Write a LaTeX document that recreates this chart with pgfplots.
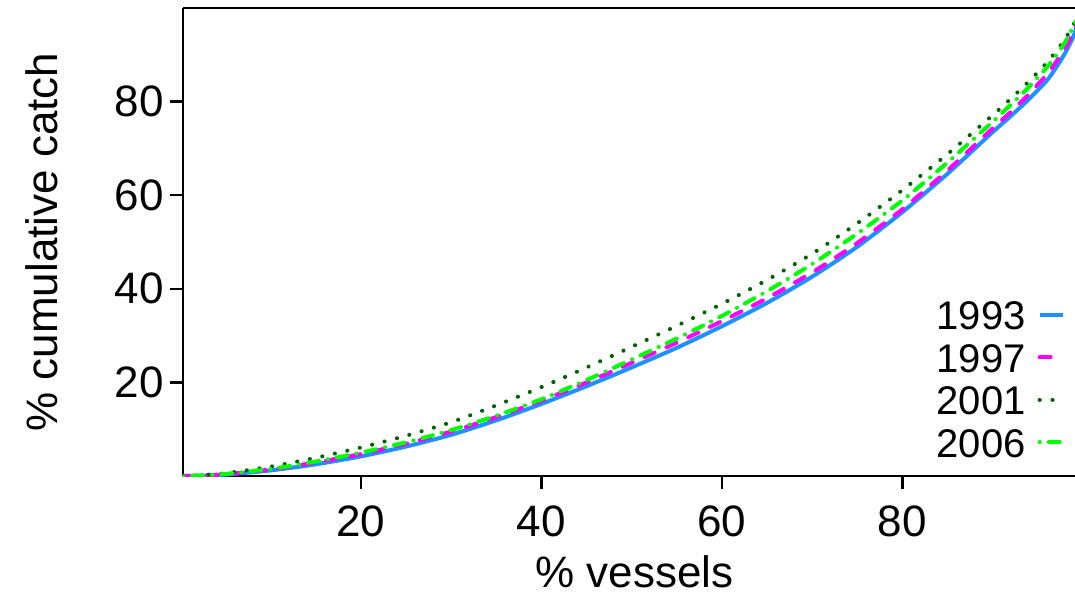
\documentclass[border=0pt]{standalone}
\usepackage{fontspec}
\setmainfont{Liberation Sans}
\usepackage{pgfplots}
\pgfplotsset{compat=1.18}

\definecolor{c93}{HTML}{1E90FF}
\definecolor{c97}{HTML}{FF00FF}
\definecolor{c01}{HTML}{006400}
\definecolor{c06}{HTML}{00FF00}

\pgfplotstableread{
x y
0.28 0
2 0.05
5 0.3
10 1.2
15 2.5
20 4.2
25 6.3
30 8.8
35 11.9
40 15.4
45 19.2
50 23.2
55 27.4
60 32.0
65 37.0
70 42.6
75 49.0
80 56.4
85 64.6
90 73.5
92 76.9
94 80.5
96 84.5
97 87.2
98 90.3
99 94.2
100 100
}\yrA

\pgfplotstableread{
x y
0.28 0
2 0.08
5 0.4
10 1.4
15 2.9
20 4.7
25 6.9
30 9.5
35 12.6
40 16.1
45 20.0
50 24.2
55 28.5
60 33.1
65 38.0
70 43.5
75 49.8
80 57.0
85 65.3
90 74.3
92 77.8
94 81.6
96 85.8
97 88.4
98 91.4
99 95.0
100 100
}\yrB

\pgfplotstableread{
x y
0.28 0
2 0.15
5 0.6
10 2.0
15 3.9
20 6.1
25 8.6
30 11.5
35 15.1
40 19.0
45 23.2
50 27.6
55 32.1
60 36.8
65 41.9
70 47.5
75 54.0
80 61.1
85 68.8
90 77.1
92 80.6
94 84.3
96 88.3
97 90.7
98 93.3
99 96.6
100 100
}\yrC

\pgfplotstableread{
x y
0.28 0
2 0.1
5 0.45
10 1.5
15 3.1
20 5.0
25 7.2
30 9.8
35 12.9
40 16.4
45 20.5
50 24.9
55 29.4
60 34.2
65 39.5
70 45.3
75 51.8
80 58.9
85 67.0
90 75.7
92 79.3
94 83.1
96 87.3
97 89.8
98 92.6
99 96.3
100 100
}\yrD

\begin{document}
\fontsize{22}{26}\selectfont
\begin{tikzpicture}
\useasboundingbox (-91.5pt,-60pt) rectangle (446pt,238pt);
\begin{axis}[
    name=ax,
    width=446pt, height=234pt,
    scale only axis,
    xmin=0.28, xmax=99.12,
    ymin=0, ymax=100,
    axis x line*=bottom,
    axis y line*=left,
    axis line style={line width=1.2pt},
    tick style={line width=1.2pt, black},
    tick align=outside,
    major tick length=6.5pt,
    xtick={20,40,60,80},
    ytick={20,40,60,80},
    /pgf/number format/assume math mode=true,
    ticklabel style={font=\fontsize{22}{26}\selectfont},
    yticklabel style={anchor=east, inner sep=0pt, xshift=-3pt},
    xticklabel style={anchor=north, inner sep=0pt, yshift=-8pt},
    every axis x label/.style={at={(axis description cs:0.506,0)}, yshift=-48pt, anchor=center},
    every axis y label/.style={at={(axis description cs:0,0.5)}, xshift=-70.5pt, rotate=90, anchor=center},
    label style={font=\fontsize{22}{26}\selectfont},
    xlabel={\% vessels},
    ylabel={\% cumulative catch},
    legend plot pos=right,
    legend image code/.code={\draw[#1] (0pt,0pt) -- (11.5pt,0pt);},
    legend style={draw=none, fill=none, at={(axis description cs:1,0)}, anchor=south east,
        xshift=-5pt, yshift=6pt, font=\fontsize{20}{24}\selectfont, row sep=0pt,
        inner sep=0pt, column sep=6pt,
        nodes={inner sep=0pt, text height=18pt, text depth=3.25pt}},
    legend cell align=right,
]
\addplot[c93, line width=2pt, smooth, tension=0.4] table {\yrA};
\addlegendentry{1993}
\addplot[c97, line width=2pt, smooth, tension=0.4, line cap=round, dash pattern=on 5.5pt off 6.5pt] table {\yrB};
\addlegendentry{1997}
\addplot[c01, line width=2pt, smooth, tension=0.4, line cap=round, dash pattern=on 0.1pt off 6.3pt] table {\yrC};
\addlegendentry{2001}
\addplot[c06, line width=2pt, smooth, tension=0.4, line cap=round, dash pattern=on 0.1pt off 4.5pt on 5.5pt off 4.5pt] table {\yrD};
\addlegendentry{2006}
\end{axis}
\draw[line width=1.2pt] (ax.north west) -- (ax.north east);
\end{tikzpicture}
\end{document}
